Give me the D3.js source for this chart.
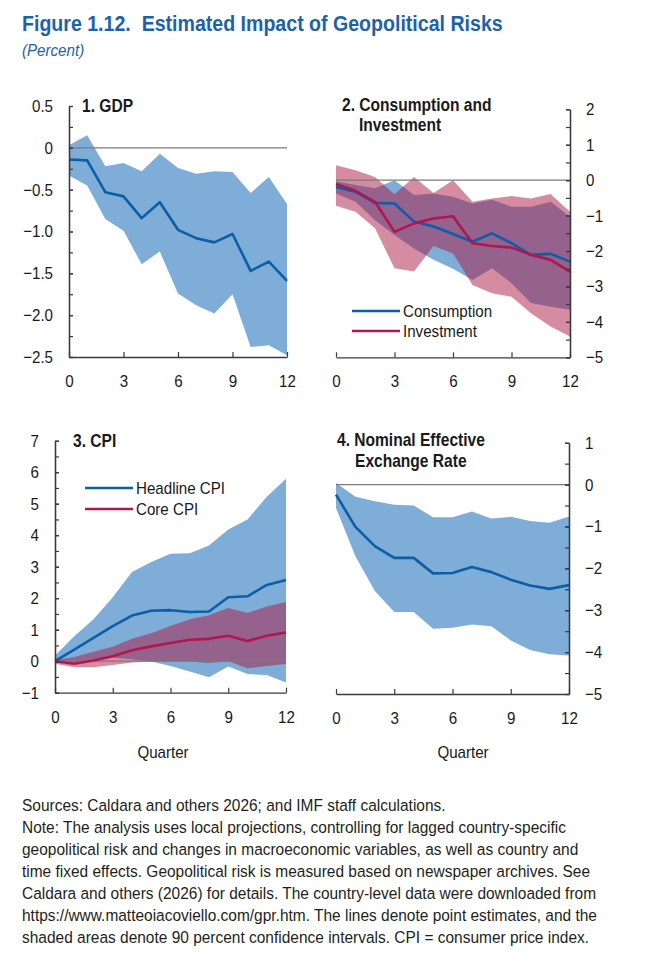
<!DOCTYPE html>
<html><head><meta charset="utf-8">
<script src="https://cdn.jsdelivr.net/npm/d3@7"></script>
<style>
body{margin:0;background:#fff}
svg text{font-family:'Liberation Sans Narrow','Arial Narrow','Liberation Sans',Arial,sans-serif}
</style></head><body><svg id="c" width="650" height="953"></svg>
<script>
// ---------- data ----------
const quarters = [0,1,2,3,4,5,6,7,8,9,10,11,12];
const xTicks = [0,3,6,9,12];

const gdpLine  = [-0.14,-0.15,-0.53,-0.58,-0.84,-0.65,-0.98,-1.08,-1.13,-1.03,-1.47,-1.36,-1.59];
const gdpUpper = [0.03,0.15,-0.22,-0.18,-0.28,-0.07,-0.24,-0.31,-0.28,-0.29,-0.54,-0.35,-0.67];
const gdpLower = [-0.33,-0.45,-0.85,-0.99,-1.39,-1.24,-1.74,-1.88,-1.98,-1.75,-2.38,-2.36,-2.48];

const consLine  = [-0.19,-0.33,-0.64,-0.66,-1.17,-1.31,-1.52,-1.74,-1.50,-1.78,-2.11,-2.08,-2.30];
const consUpper = [-0.03,-0.14,-0.23,0.00,-0.42,-0.38,-0.47,-0.66,-0.55,-0.75,-0.75,-0.61,-1.03];
const consLower = [-0.38,-0.61,-1.13,-1.55,-1.93,-2.25,-2.50,-2.82,-2.49,-2.91,-3.47,-3.57,-3.66];
const invLine   = [-0.11,-0.30,-0.61,-1.46,-1.22,-1.08,-1.02,-1.78,-1.86,-1.90,-2.11,-2.25,-2.58];
const invUpper  = [0.42,0.28,0.09,-0.40,0.09,-0.36,0.00,-0.61,-0.52,-0.45,-0.52,-0.39,-0.89];
const invLower  = [-0.72,-0.89,-1.36,-2.49,-2.58,-1.86,-2.07,-2.96,-3.19,-3.29,-3.76,-4.13,-4.41];

const headLine  = [0.00,0.37,0.74,1.11,1.45,1.60,1.62,1.56,1.58,2.03,2.06,2.42,2.58];
const headUpper = [0.18,0.79,1.33,2.03,2.83,3.15,3.41,3.43,3.67,4.18,4.50,5.22,5.79];
const headLower = [-0.02,-0.05,0.04,0.12,0.06,-0.01,-0.15,-0.33,-0.51,-0.17,-0.41,-0.44,-0.68];
const coreLine  = [0.00,-0.08,0.02,0.16,0.35,0.47,0.58,0.68,0.71,0.81,0.64,0.81,0.91];
const coreUpper = [0.03,0.13,0.30,0.46,0.71,0.89,1.12,1.33,1.46,1.69,1.53,1.74,1.88];
const coreLower = [-0.08,-0.19,-0.19,-0.12,-0.04,-0.01,-0.01,-0.01,-0.06,0.00,-0.22,-0.15,-0.09];

const neerLine  = [-0.24,-1.01,-1.47,-1.75,-1.75,-2.12,-2.11,-1.97,-2.09,-2.27,-2.41,-2.49,-2.40];
const neerUpper = [0.04,-0.29,-0.40,-0.48,-0.50,-0.78,-0.78,-0.64,-0.81,-0.77,-0.87,-0.91,-0.76];
const neerLower = [-0.56,-1.71,-2.54,-3.04,-3.04,-3.44,-3.42,-3.34,-3.38,-3.72,-3.95,-4.05,-4.08];

const gdpTicks = [0.5,0,-0.5,-1,-1.5,-2,-2.5];
const gdpTickLabels = ["0.5","0","−0.5","−1.0","−1.5","−2.0","−2.5"];
const ciTicks = [2,1,0,-1,-2,-3,-4,-5];
const ciTickLabels = ["2","1","0","−1","−2","−3","−4","−5"];
const cpiTicks = [7,6,5,4,3,2,1,0,-1];
const cpiTickLabels = ["7","6","5","4","3","2","1","0","−1"];
const neerTicks = [1,0,-1,-2,-3,-4,-5];
const neerTickLabels = ["1","0","−1","−2","−3","−4","−5"];

const titleText = "Figure 1.12.  Estimated Impact of Geopolitical Risks";
const subtitleText = "(Percent)";
const noteLines = [
 "Sources: Caldara and others 2026; and IMF staff calculations.",
 "Note: The analysis uses local projections, controlling for lagged country-specific",
 "geopolitical risk and changes in macroeconomic variables, as well as country and",
 "time fixed effects. Geopolitical risk is measured based on newspaper archives. See",
 "Caldara and others (2026) for details. The country-level data were downloaded from",
 "https://www.matteoiacoviello.com/gpr.htm. The lines denote point estimates, and the",
 "shaded areas denote 90 percent confidence intervals. CPI = consumer price index."
];

// ---------- style ----------
const BLUE = "#0b5ea8", BLUEBAND = "#7eadd7", RED = "#b0174f", REDBAND = "rgb(171,20,61)", REDOP = 0.49;
const INK = "#1a1a1a", AXIS = "#3a3a3a";
const SX = 0.89;      // horizontal condensing of chart text
const SX_NOTES = 0.91;

const svg = d3.select("#c");
svg.append("rect").attr("width",650).attr("height",953).attr("fill","#fff");

svg.append("text").attr("x",22).attr("y",31).attr("font-size",22).attr("font-weight","bold")
  .style("white-space","pre").attr("fill","#1d62a8").text(titleText);
svg.append("text").attr("x",22).attr("y",56).attr("font-size",17).attr("font-style","italic")
  .attr("fill","#1d62a8").text(subtitleText);

function drawPanel(o){
  const x = d3.scaleLinear().domain([0,12]).range(o.xr);
  const y = d3.scaleLinear().domain(o.yd).range(o.yr);
  const g = svg.append("g");
  o.bands.forEach(b=>{
    const area = d3.area().x((d,i)=>x(quarters[i])).y0((d,i)=>y(b.lower[i])).y1((d,i)=>y(b.upper[i]));
    g.append("path").datum(b.upper).attr("d",area).attr("fill",b.fill).attr("fill-opacity",b.op);
  });
  g.append("line").attr("x1",x(0)).attr("x2",x(12)).attr("y1",y(0)).attr("y2",y(0))
    .attr("stroke","#7a7a7a").attr("stroke-width",1.2);
  o.lines.forEach(l=>{
    const line = d3.line().x((d,i)=>x(quarters[i])).y(d=>y(d));
    g.append("path").datum(l.values).attr("d",line).attr("fill","none")
      .attr("stroke",l.color).attr("stroke-width",2.6).attr("stroke-linejoin","round");
  });
  const left = o.side==="left";
  const ax = left ? o.xr[0] : o.xr[1];
  const mk = left ? d3.axisLeft : d3.axisRight;
  const minor = d3.range(o.yd[0], o.yd[1]+1e-9, o.minorStep);
  const gm = g.append("g").attr("transform",`translate(${ax},0)`)
    .call(mk(y).tickValues(minor).tickFormat("").tickSize(-4).tickSizeOuter(0));
  const gy = g.append("g").attr("transform",`translate(${ax},0)`)
    .call(mk(y).tickValues(o.yTicks).tickFormat((d,i)=>o.yLabels[i]).tickSize(-4).tickSizeOuter(0).tickPadding(16));
  const gx = g.append("g").attr("transform",`translate(0,${o.yr[0]})`)
    .call(d3.axisBottom(x).tickValues(xTicks).tickSize(-5).tickSizeOuter(0).tickPadding(18));
  [gm,gy,gx].forEach(a=>{
    a.select(".domain").attr("stroke",AXIS).attr("stroke-width",1.3);
    a.selectAll(".tick line").attr("stroke",AXIS).attr("stroke-width",1.2);
    a.selectAll("text").attr("font-size",17).attr("fill",INK).attr("font-family",null);
  });
  o.title.forEach(t=>{
    g.append("text").attr("x",t[0]).attr("y",t[1]).attr("font-size",17.5).attr("font-weight","bold")
      .attr("fill",INK).text(t[2]);
  });
  (o.legend||[]).forEach(l=>{
    g.append("line").attr("x1",l.x).attr("x2",l.x+48).attr("y1",l.y).attr("y2",l.y)
      .attr("stroke",l.color).attr("stroke-width",2.6);
    g.append("text").attr("x",l.x+51).attr("y",l.y+6).attr("font-size",17).attr("fill",INK).text(l.label);
  });
  if(o.xlabel){
    g.append("text").attr("x",o.xlabel[0]).attr("y",o.xlabel[1]).attr("text-anchor","middle")
      .attr("font-size",17).attr("fill",INK).text("Quarter");
  }
}

drawPanel({xr:[69,287], yr:[357,106], yd:[-2.5,0.5], side:"left", minorStep:0.25,
  yTicks:gdpTicks, yLabels:gdpTickLabels,
  bands:[{upper:gdpUpper, lower:gdpLower, fill:BLUEBAND, op:1}],
  lines:[{values:gdpLine, color:BLUE}],
  title:[[82,112,"1. GDP"]]});

drawPanel({xr:[336,570], yr:[357.3,109.3], yd:[-5,2], side:"right", minorStep:0.5,
  yTicks:ciTicks, yLabels:ciTickLabels,
  bands:[{upper:consUpper, lower:consLower, fill:BLUEBAND, op:1},
         {upper:invUpper, lower:invLower, fill:REDBAND, op:REDOP}],
  lines:[{values:consLine, color:BLUE},{values:invLine, color:RED}],
  title:[[342,111,"2. Consumption and"],[359,131,"Investment"]],
  legend:[{x:352,y:311,color:BLUE,label:"Consumption"},{x:352,y:331,color:RED,label:"Investment"}]});

drawPanel({xr:[55,286], yr:[692.7,440.7], yd:[-1,7], side:"left", minorStep:0.5,
  yTicks:cpiTicks, yLabels:cpiTickLabels,
  bands:[{upper:headUpper, lower:headLower, fill:BLUEBAND, op:1},
         {upper:coreUpper, lower:coreLower, fill:REDBAND, op:REDOP}],
  lines:[{values:headLine, color:BLUE},{values:coreLine, color:RED}],
  title:[[73,447,"3. CPI"]],
  legend:[{x:85,y:488,color:BLUE,label:"Headline CPI"},{x:85,y:509,color:RED,label:"Core CPI"}],
  xlabel:[163,758]});

drawPanel({xr:[336,569], yr:[694,442.7], yd:[-5,1], side:"right", minorStep:0.5,
  yTicks:neerTicks, yLabels:neerTickLabels,
  bands:[{upper:neerUpper, lower:neerLower, fill:BLUEBAND, op:1}],
  lines:[{values:neerLine, color:BLUE}],
  title:[[337,446,"4. Nominal Effective"],[355,467,"Exchange Rate"]],
  xlabel:[463,758]});

// condense every single-line text horizontally around its anchor point
svg.selectAll("text").each(function(){
  const t = d3.select(this);
  const x = +t.attr("x") || 0, y = +t.attr("y") || 0;
  const prev = t.attr("transform") || "";
  t.attr("x",0).attr("y",0).attr("transform",`${prev} translate(${x},${y}) scale(${SX},1)`);
});

// notes block
const notes = svg.append("text").attr("font-size",17).attr("fill","#231f20")
  .attr("transform",`translate(22,0) scale(${SX_NOTES},1)`);
noteLines.forEach((t,i)=>{
  notes.append("tspan").attr("x",0).attr("y",811+i*22).text(t);
});
</script></body></html>
